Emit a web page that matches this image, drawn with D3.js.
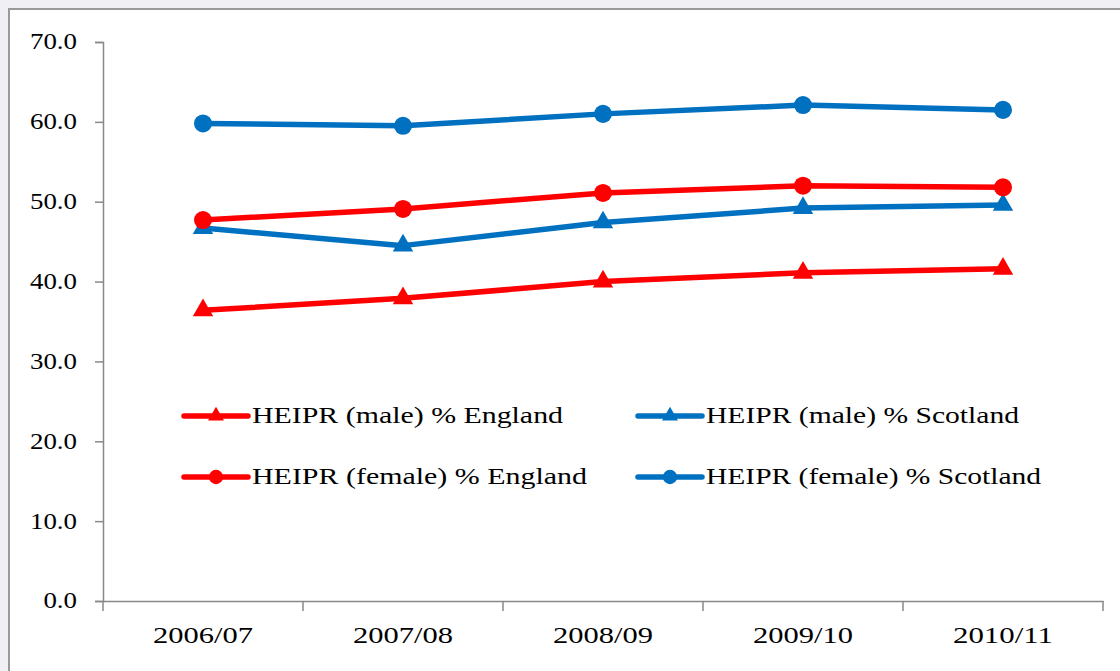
<!DOCTYPE html>
<html>
<head>
<meta charset="utf-8">
<script src="https://cdn.jsdelivr.net/npm/d3@7"></script>
<style>
  html, body { margin: 0; padding: 0; background: #f0eff3; }
  svg { display: block; }
  text { font-family: "Liberation Serif", "Times New Roman", serif; fill: #000; }
</style>
</head>
<body>
<div id="chart"></div>
<script>
// data
var years = ["2006/07", "2007/08", "2008/09", "2009/10", "2010/11"];
var engMale     = [36.4, 37.9, 40.0, 41.1, 41.6];
var scoMale     = [46.7, 44.5, 47.4, 49.2, 49.6];
var engFemale   = [47.7, 49.1, 51.1, 52.0, 51.8];
var scoFemale   = [59.8, 59.5, 61.0, 62.1, 61.5];
var yTicks      = [0, 10, 20, 30, 40, 50, 60, 70];
var seriesNames = ["HEIPR (male) % England", "HEIPR (male) % Scotland",
                   "HEIPR (female) % England", "HEIPR (female) % Scotland"];

var RED = "#ff0000", BLUE = "#0070c0";
var series = [
    { name: seriesNames[0], values: engMale,   color: RED,  shape: "tri" },
    { name: seriesNames[1], values: scoMale,   color: BLUE, shape: "tri" },
    { name: seriesNames[2], values: engFemale, color: RED,  shape: "dot" },
    { name: seriesNames[3], values: scoFemale, color: BLUE, shape: "dot" }
];

var W = 1120, H = 671;
var svg = d3.select("#chart").append("svg")
    .attr("width", W).attr("height", H);

// white panel with grey border
svg.append("rect")
    .attr("x", 9).attr("y", 9)
    .attr("width", W + 20).attr("height", H + 20)
    .attr("fill", "#fff")
    .attr("stroke", "#999").attr("stroke-width", 2);

var x = d3.scaleBand().domain(years).range([103, 1103]).padding(0);
var y = d3.scaleLinear().domain([0, 70]).range([601, 42]);

var AXIS = "#888";

// y axis
var yAxis = svg.append("g")
    .attr("transform", "translate(103,0)")
    .call(d3.axisLeft(y).tickValues(yTicks).tickSize(8).tickPadding(18).tickFormat(d3.format(".1f")));
yAxis.select(".domain").attr("stroke", AXIS).attr("stroke-width", 1.5);
yAxis.selectAll(".tick line").attr("stroke", AXIS).attr("stroke-width", 1.5);
yAxis.selectAll(".tick text")
    .attr("font-size", 23).attr("font-family", null).attr("fill", "#000")
    .attr("x", -26).attr("dy", "0.3em")
    .each(function() {
        // reference glyphs are set wider than the font gives
        var w = this.getComputedTextLength();
        d3.select(this).attr("textLength", w * 1.17).attr("lengthAdjust", "spacingAndGlyphs");
    });

// x axis: labels centred, ticks on category boundaries
var xAxis = svg.append("g")
    .attr("transform", "translate(0,601)")
    .call(d3.axisBottom(x).tickSize(0).tickPadding(0).tickSizeOuter(0));
xAxis.select(".domain").attr("stroke", AXIS).attr("stroke-width", 1.5);
xAxis.selectAll(".tick text")
    .attr("font-size", 23).attr("font-family", null).attr("fill", "#000")
    .attr("y", 42).attr("dy", 0)
    .attr("textLength", 100).attr("lengthAdjust", "spacingAndGlyphs");
var bounds = years.map(function(d){ return x(d); }).concat([x.range()[1]]);
xAxis.selectAll(".bound").data(bounds).enter().append("line")
    .attr("class", "bound")
    .attr("x1", function(d){ return d; }).attr("x2", function(d){ return d; })
    .attr("y1", 0).attr("y2", 10)
    .attr("stroke", AXIS).attr("stroke-width", 1.5);

var cx = function(i){ return x(years[i]) + x.bandwidth() / 2; };
var line = d3.line()
    .x(function(d, i){ return cx(i); })
    .y(function(d){ return y(d); });

var triBig = d3.symbol().type(d3.symbolTriangle).size(180);
var dotBig = d3.symbol().type(d3.symbolCircle).size(255);

series.forEach(function(s) {
    var g = svg.append("g");
    g.append("path")
        .attr("d", line(s.values))
        .attr("fill", "none")
        .attr("stroke", s.color)
        .attr("stroke-width", 5.5)
        .attr("stroke-linejoin", "round");
    g.selectAll("path.mark").data(s.values).enter().append("path")
        .attr("class", "mark")
        .attr("d", s.shape == "tri" ? triBig : dotBig)
        .attr("transform", function(d, i){ return "translate(" + cx(i) + "," + y(d) + ")"; })
        .attr("fill", s.color);
});

// legend, 2 x 2
var legendCols = [184, 638];
var legendRows = [416, 477];
var legendLens = [311, 313, 335, 335];
var triSmall = d3.symbol().type(d3.symbolTriangle).size(110);
var dotSmall = d3.symbol().type(d3.symbolCircle).size(160);

series.forEach(function(s, i) {
    var lx = legendCols[i % 2], ly = legendRows[Math.floor(i / 2)];
    var g = svg.append("g").attr("transform", "translate(" + lx + "," + ly + ")");
    g.append("line")
        .attr("x1", 0).attr("x2", 64).attr("y1", 0).attr("y2", 0)
        .attr("stroke", s.color).attr("stroke-width", 5.5).attr("stroke-linecap", "round");
    g.append("path")
        .attr("d", s.shape == "tri" ? triSmall : dotSmall)
        .attr("transform", "translate(32,0)")
        .attr("fill", s.color);
    g.append("text")
        .attr("x", 68).attr("y", 7)
        .attr("font-size", 23)
        .attr("textLength", legendLens[i]).attr("lengthAdjust", "spacingAndGlyphs")
        .text(s.name);
});
</script>
</body>
</html>
